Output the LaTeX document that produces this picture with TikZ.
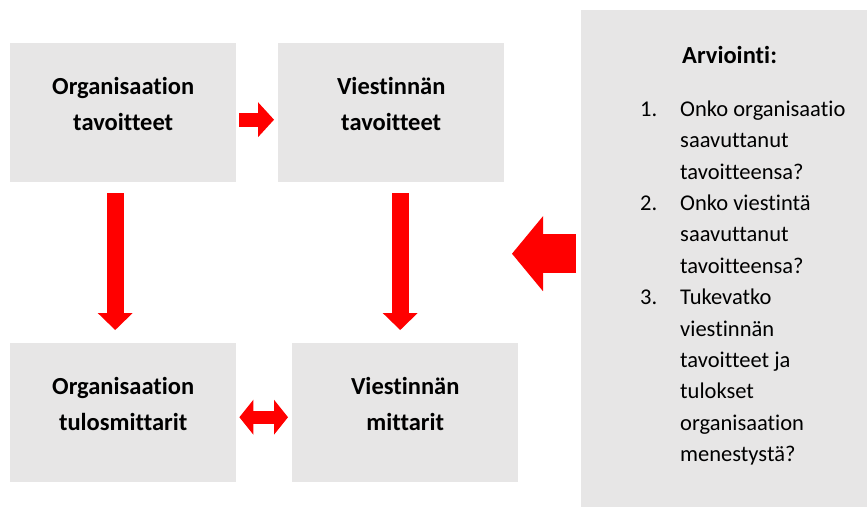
\documentclass[tikz,border=0pt]{standalone}
\usepackage{fontspec}
\setmainfont[Ligatures=NoCommon]{Carlito}
\usetikzlibrary{arrows.meta}
\definecolor{boxgray}{HTML}{E7E6E6}
\definecolor{arrowred}{HTML}{FF0000}
\tikzset{
  box/.style={fill=boxgray, anchor=north west, inner sep=0pt, minimum width=226pt, minimum height=139pt},
  boxtext/.style={align=center, font=\fontsize{24.5}{36}\selectfont\bfseries},
  blockarrow/.style n args={3}{draw=arrowred, line width=#1, -{Triangle[width=#2, length=#3, line width=0pt]}},
}

\begin{document}
\begin{tikzpicture}[x=1pt, y=-1pt]
    \useasboundingbox (0,0) rectangle (867,507);
    % boxes
    \node[box] (ot) at (10,43) {};
    \node[box] (vt) at (278,43) {};
    \node[box] (om) at (10,343) {};
    \node[box] (vm) at (292,343) {};
    \node[boxtext] (ot-t) at ([yshift=9pt]ot.center) {Organisaation\\tavoitteet};
    \node[boxtext] (vt-t) at ([yshift=9pt]vt.center) {Viestinnän\\tavoitteet};
    \node[boxtext] (om-t) at ([yshift=9pt]om.center) {Organisaation\\tulosmittarit};
    \node[boxtext] (vm-t) at ([yshift=9pt]vm.center) {Viestinnän\\mittarit};
    % evaluation panel
    \node[fill=boxgray, anchor=north west, inner sep=0pt, minimum width=286pt, minimum height=497pt] (arv) at (581,10) {};
    \node[anchor=west, font=\fontsize{24.5}{30}\selectfont\bfseries, inner sep=0pt] (arv-t)
        at ([xshift=101pt, yshift=-45pt]arv.north west) {Arviointi:};
    \node[anchor=north west, align=left, inner sep=0pt, font=\fontsize{22.5}{31.4}\selectfont] (arv-l)
        at ([xshift=59pt, yshift=-90.5pt]arv.north west)
        {\makebox[40pt][l]{1.}Onko organisaatio\\
         \hspace*{40pt}saavuttanut\\
         \hspace*{40pt}tavoitteensa?\\
         \makebox[40pt][l]{2.}Onko viestintä\\
         \hspace*{40pt}saavuttanut\\
         \hspace*{40pt}tavoitteensa?\\
         \makebox[40pt][l]{3.}Tukevatko\\
         \hspace*{40pt}viestinnän\\
         \hspace*{40pt}tavoitteet ja\\
         \hspace*{40pt}tulokset\\
         \hspace*{40pt}organisaation\\
         \hspace*{40pt}menestystä?};
    % arrows
    \draw[blockarrow={14pt}{35pt}{16pt}] ([xshift=3pt, yshift=-7pt]ot.east) -- ([xshift=-4pt, yshift=-7pt]vt.west);
    \draw[blockarrow={17pt}{35pt}{17pt}] ([xshift=-8pt, yshift=-11pt]ot.south) -- ([xshift=-8pt, yshift=13pt]om.north);
    \draw[blockarrow={17pt}{35pt}{17pt}] ([xshift=9pt, yshift=-11pt]vt.south) -- ([xshift=-5pt, yshift=13pt]vm.north);
    \draw[blockarrow={13pt}{35pt}{14pt}, {Triangle[width=35pt, length=14pt, line width=0pt]}-{Triangle[width=35pt, length=14pt, line width=0pt]}]
        ([xshift=3pt, yshift=-4.5pt]om.east) -- ([xshift=-4pt, yshift=-4.5pt]vm.west);
    \draw[blockarrow={39pt}{75pt}{31pt}] ([xshift=-5pt, yshift=5pt]arv.west) -- ([xshift=-69pt, yshift=5pt]arv.west);
\end{tikzpicture}
\end{document}
